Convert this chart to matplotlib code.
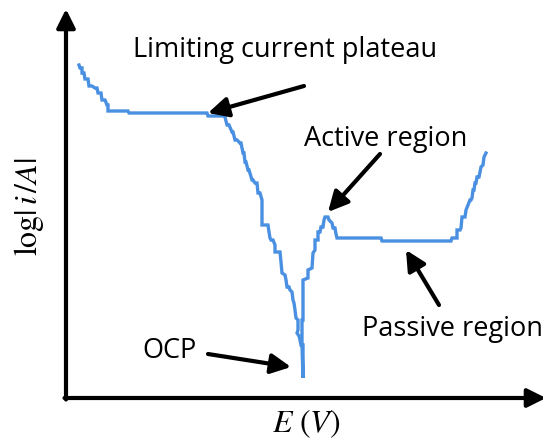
import matplotlib
matplotlib.use("Agg")
import matplotlib.pyplot as plt

plt.rcParams['mathtext.fontset'] = 'stix'

# Curve vertices (E, log|i|) (pixel-like units, y downward)
E = [79, 80, 82, 82, 84, 85, 88, 89, 92, 95, 97, 98, 101, 102, 105, 107, 108, 108,
     128, 129, 207, 208, 224, 225, 227, 229, 232, 233, 235, 237, 240, 241, 243, 244,
     245, 246, 248, 249, 252, 253, 255, 257, 258, 260, 262, 262, 268, 269, 270, 271,
     273, 275, 275, 280, 281, 282, 285, 286, 287, 289, 290, 292, 293, 294, 295, 296,
     298, 298, 297, 299, 300, 301, 303, 303, 302, 302, 303, 303, 308, 308, 312, 313,
     315, 315, 318, 318, 320, 321, 323, 324, 325, 328, 329, 332, 333, 335, 336, 337,
     340, 381, 382, 451, 452, 457, 457, 460, 461, 462, 465, 466, 468, 470, 471, 472,
     473, 474, 475, 476, 477, 479, 480, 481, 483, 484, 486]
logi = [65, 68, 68, 73, 73, 79, 79, 86, 86, 88, 88, 93, 93, 100, 100, 105, 105, 111,
        111, 113, 113, 116, 116, 117, 125, 125, 132, 132, 140, 140, 143, 143, 153, 153,
        162, 162, 170, 170, 180, 180, 183, 183, 193, 193, 200, 225, 225, 232, 238, 240,
        240, 245, 252, 252, 262, 273, 275, 280, 287, 287, 290, 292, 300, 303, 310, 318,
        320, 330, 333, 336, 340, 345, 345, 378, 345, 320, 320, 280, 278, 270, 268, 253,
        250, 240, 240, 232, 232, 227, 227, 220, 217, 217, 220, 223, 228, 228, 234, 238,
        238, 238, 241, 241, 238, 238, 230, 230, 228, 217, 217, 210, 205, 200, 200, 198,
        190, 190, 183, 183, 177, 177, 172, 167, 165, 157, 153]

# Annotations: label, text position, arrow tail, arrow tip
labels = ["Limiting current plateau", "Active region", "Passive region", "OCP"]
text_pos = [(285, 50), (386, 139), (452, 329), (170, 351)]
arrow_tail = [(304, 86), (380, 154), (439, 305), (208, 354)]
arrow_tip = [(208, 113), (328, 212), (406, 250), (291, 367)]

fig = plt.figure(figsize=(5.43, 4.43), dpi=100)
ax = fig.add_axes([0, 0, 1, 1])
ax.set_xlim(0, 543)
ax.set_ylim(443, 0)
ax.axis('off')

ax.plot(E, logi, color='#4a90e2', lw=2.4, solid_joinstyle='miter')

# axes with arrows
ax.annotate('', xy=(66, 9), xytext=(66, 399.5), annotation_clip=False,
            arrowprops=dict(arrowstyle='-|>', lw=3, color='black', mutation_scale=28,
                            shrinkA=0, shrinkB=0))
ax.annotate('', xy=(546, 398), xytext=(64.5, 398), annotation_clip=False,
            arrowprops=dict(arrowstyle='-|>', lw=3, color='black', mutation_scale=28,
                            shrinkA=0, shrinkB=0))

for lab, tp, tail, tip in zip(labels, text_pos, arrow_tail, arrow_tip):
    ax.text(tp[0], tp[1], lab, ha='center', va='center', fontsize=19.5,
            family='Open Sans', color='black')
    ax.annotate('', xy=tip, xytext=tail,
                arrowprops=dict(arrowstyle='-|>', lw=3, color='black',
                                mutation_scale=30, shrinkA=0, shrinkB=0))

ax.text(29, 207, r'$\log|\,i\,/A|$', rotation=90, ha='center', va='center', fontsize=23)
ax.text(306, 424, r'$E\ (V)$', ha='center', va='center', fontsize=23)

fig.savefig('out.png', dpi=100)
